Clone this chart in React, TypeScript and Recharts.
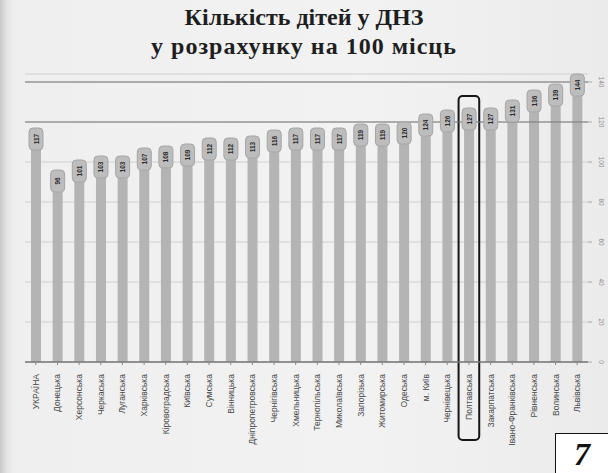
import React from 'react';
import {
    BarChart, Bar, XAxis, YAxis, CartesianGrid,
    ReferenceLine, ReferenceArea, LabelList
} from 'recharts';

const regions = [
    'УКРАЇНА', 'Донецька', 'Херсонська', 'Черкаська', 'Луганська', 'Харківська',
    'Кіровоградська', 'Київська', 'Сумська', 'Вінницька', 'Дніпропетровська',
    'Чернігівська', 'Хмельницька', 'Тернопільська', 'Миколаївська', 'Запорізька',
    'Житомирська', 'Одеська', 'м. Київ', 'Чернівецька', 'Полтавська',
    'Закарпатська', 'Івано-Франківська', 'Рівненська', 'Волинська', 'Львівська',
];
const children = [
    117, 96, 101, 103, 103, 107, 108, 109, 112, 112, 113, 116, 117, 117, 117,
    119, 119, 120, 124, 126, 127, 127, 131, 136, 139, 144,
];
const yTicks = [0, 20, 40, 60, 80, 100, 120, 140];
const highlighted = 'Полтавська';

const data = regions.map((name, i) => ({ name, value: children[i] }));

// rounded badge with the value written upwards
const Badge = (props: any) => {
    const { x, y, width, value } = props;
    const cx = x + width / 2;
    const w = 14;
    const h = 22;
    return (
        <g>
            <rect x={cx - w / 2} y={y} width={w} height={h} rx={4} fill="#bdbdbd" stroke="#a6a6a6" strokeWidth={1} />
            <text
                x={cx}
                y={y + h / 2}
                transform={`rotate(-90 ${cx} ${y + h / 2})`}
                textAnchor="middle"
                dominantBaseline="central"
                fontSize={6.5}
                fontWeight="bold"
                fill="#2a2a2a"
                fontFamily="Arial, sans-serif"
            >
                {value}
            </text>
        </g>
    );
};

const NameTick = (props: any) => {
    const { x, y, payload } = props;
    const ty = y + 7;
    return (
        <text
            x={x}
            y={ty}
            transform={`rotate(-90 ${x} ${ty})`}
            textAnchor="end"
            dominantBaseline="central"
            fontSize={8.5}
            fill="#4a4a4a"
            fontFamily="Arial, sans-serif"
        >
            {payload.value}
        </text>
    );
};

const ValueTick = (props: any) => {
    const { x, y, payload } = props;
    const tx = x + 7;
    return (
        <text
            x={tx}
            y={y}
            transform={`rotate(90 ${tx} ${y})`}
            textAnchor="middle"
            dominantBaseline="central"
            fontSize={6.5}
            fill="#8a8a8a"
            fontFamily="Arial, sans-serif"
        >
            {payload.value}
        </text>
    );
};

const App: React.FC = () => {
    return (
        <div style={{
            position: 'absolute', left: 0, top: 0, width: 608, height: 473, overflow: 'hidden',
            background: 'linear-gradient(90deg, #c9c9c9 0px, #e4e4e4 7px, #efefef 14px, #f2f2f2 60%, #ebebeb 100%)',
        }}>
            <div style={{
                position: 'absolute', left: 0, top: 3, width: 608, textAlign: 'center',
                fontFamily: '"Liberation Serif", "DejaVu Serif", serif', fontWeight: 'bold',
                fontSize: 24, lineHeight: '29px', color: '#1e1e1e',
            }}>
                Кількість дітей у ДНЗ<br />
                <span style={{ letterSpacing: 1 }}>у розрахунку на 100 місць</span>
            </div>
            <div style={{ position: 'absolute', left: 0, top: 0 }}>
                <BarChart
                    width={608}
                    height={473}
                    data={data}
                    margin={{ top: 74, right: 0, bottom: 0, left: 25 }}
                    barCategoryGap={0}
                >
                    <CartesianGrid horizontal vertical={false} stroke="#cfcfcf" strokeWidth={1} />
                    <ReferenceLine y={120} stroke="#777" strokeWidth={1} />
                    <ReferenceLine y={140} stroke="#777" strokeWidth={1} />
                    <XAxis
                        dataKey="name"
                        interval={0}
                        height={111}
                        tick={<NameTick />}
                        tickLine={{ stroke: '#888' }}
                        tickSize={3}
                        axisLine={{ stroke: '#777', strokeWidth: 1.5 }}
                    />
                    <YAxis
                        orientation="right"
                        width={20}
                        domain={[0, 144]}
                        ticks={yTicks}
                        tick={<ValueTick />}
                        tickLine={{ stroke: '#aaa' }}
                        tickSize={4}
                        axisLine={false}
                    />
                    <Bar dataKey="value" fill="#b4b4b4" barSize={10} isAnimationActive={false}>
                        <LabelList dataKey="value" content={<Badge />} />
                    </Bar>
                    <ReferenceArea
                        x1={highlighted}
                        x2={highlighted}
                        y1={-39}
                        y2={133}
                        ifOverflow="visible"
                        shape={(p: any) => (
                            <rect x={p.x + 0.5} y={p.y} width={p.width - 1} height={p.height} rx={4}
                                fill="none" stroke="#151515" strokeWidth={2} />
                        )}
                    />
                </BarChart>
            </div>
            <div style={{
                position: 'absolute', left: 555, top: 433, width: 53, height: 40,
                background: '#fff', borderLeft: '1.5px solid #111', borderTop: '1.5px solid #111',
                boxSizing: 'border-box', textAlign: 'center',
                fontFamily: '"Liberation Serif", "DejaVu Serif", serif', fontWeight: 'bold',
                fontStyle: 'italic', fontSize: 32, lineHeight: '40px', color: '#111',
            }}>
                7
            </div>
        </div>
    );
};

export default App;
